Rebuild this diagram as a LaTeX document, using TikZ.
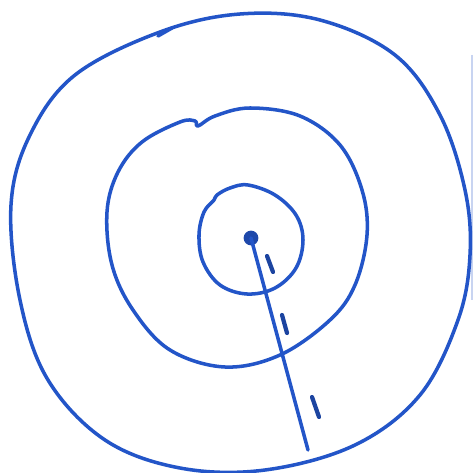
\documentclass[tikz,border=0pt]{standalone}
\begin{document}
\begin{tikzpicture}[x=0.01cm,y=-0.01cm,
  pen/.style={draw=penblue,line width=1pt,line cap=round,line join=round},
  tick/.style={draw=penblue!80!black,line width=1.2pt,line cap=round}]
\definecolor{penblue}{RGB}{35,85,200}
\fill[white] (0,0) rectangle (473,473);
\useasboundingbox (0,0) rectangle (473,473);
% faint scan edge at right
\draw[penblue!25,line width=0.8pt] (472,55) -- (472,300);
% outer circle
\draw[pen] plot[smooth cycle,tension=0.6] coordinates {
 (11,205) (30,135) (75,75) (160,32) (240,14) (320,20) (395,55)
 (440,115) (465,190) (470,255) (458,320) (420,395) (355,445)
 (265,470) (180,468) (105,440) (48,380) (20,300)};
\draw[pen] (158,36) -- (172,28);
% middle circle
\draw[pen] plot[smooth cycle,tension=0.6] coordinates {
 (107,212) (118,172) (142,142) (180,122) (195,121) (198,126) (215,116)
 (250,108) (300,116) (340,145) (362,190) (367,235) (355,285) (330,320)
 (280,355) (225,367) (170,350) (133,310) (112,265)};
% inner circle
\draw[pen] plot[smooth cycle,tension=0.6] coordinates {
 (199,235) (204,212) (214,200) (217,195) (230,188) (248,185) (275,195)
 (296,215) (303,240) (296,268) (275,288) (247,294) (220,285) (203,262)};
% center dot and radius line
\node[circle,fill=penblue!85!black,inner sep=0pt,minimum size=4.2pt] (c) at (251,238) {};
\coordinate (e) at (308,450);
\draw[pen] (c.center) -- (e);
% tick marks
\coordinate (t1a) at (267,256); \coordinate (t1b) at (273,272);
\coordinate (t2a) at (282,315); \coordinate (t2b) at (287,333);
\coordinate (t3a) at (312,397); \coordinate (t3b) at (319,417);
\draw[tick] (t1a) -- (t1b);
\draw[tick] (t2a) -- (t2b);
\draw[tick] (t3a) -- (t3b);
\end{tikzpicture}
\end{document}
